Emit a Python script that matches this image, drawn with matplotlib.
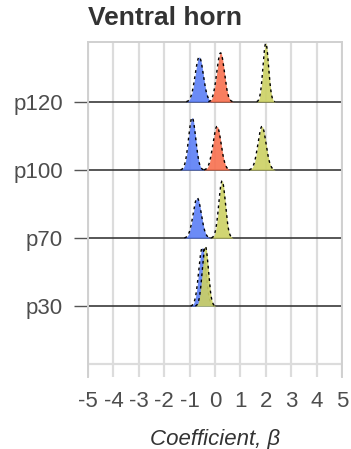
import numpy as np
import matplotlib
matplotlib.use("Agg")
import matplotlib.pyplot as plt

plt.rcParams['font.family'] = ['Liberation Sans', 'DejaVu Sans']
plt.rcParams['axes.unicode_minus'] = False

categories = ["p30", "p70", "p100", "p120"]
series_names = ["blue", "red", "yellow"]
series_colors = ["#5b7ef6", "#f8704f", "#ccd163"]
# posterior peak location (beta), spread, and ridge height (in row units); None = absent
means = {
    "p30":  [-0.50, None, -0.38],
    "p70":  [-0.70, None, 0.28],
    "p100": [-0.90, 0.08, 1.85],
    "p120": [-0.62, 0.22, 2.00],
}
sds = {
    "p30":  [0.14, None, 0.12],
    "p70":  [0.16, None, 0.13],
    "p100": [0.14, 0.16, 0.16],
    "p120": [0.16, 0.15, 0.11],
}
heights = {
    "p30":  [0.86, None, 0.88],
    "p70":  [0.59, None, 0.84],
    "p100": [0.77, 0.64, 0.64],
    "p120": [0.66, 0.72, 0.86],
}
xticks = [-5, -4, -3, -2, -1, 0, 1, 2, 3, 4, 5]

fig = plt.figure(figsize=(3.51, 4.49), dpi=100)
ax = fig.add_axes([88/351, 1-377/449, (342-88)/351, (377-42)/449])
ax.set_xlim(-5, 5)
ax.set_ylim(-1.04, 3.88)

for xv in xticks:
    ax.axvline(xv, color="#dcdcdc", lw=1.6, zorder=0)
ax.axhline(-0.85, color="#dcdcdc", lw=1.6, zorder=0)

xs = np.linspace(-5, 5, 2000)
for i, cat in enumerate(categories):
    ax.axhline(i, color="#3a3a3a", lw=1.2, zorder=1)
    for j in range(3):
        m = means[cat][j]
        if m is None:
            continue
        s = sds[cat][j]
        h = heights[cat][j]
        y = i + h * np.exp(-0.5 * ((xs - m) / s) ** 2)
        mask = y > i + 0.004
        ax.fill_between(xs[mask], i, y[mask], color=series_colors[j], alpha=0.9, lw=0, zorder=2 + j)
        ax.plot(xs[mask], y[mask], color="black", lw=1.0, ls=(0, (2, 2.5)), zorder=2 + j)

for sp in ["left", "right", "top"]:
    ax.spines[sp].set_color("#d0d0d0")
    ax.spines[sp].set_linewidth(1.4)
ax.spines["bottom"].set_visible(False)

ax.set_yticks(range(len(categories)))
ax.set_yticklabels(categories)
ax.set_xticks(xticks)
ax.set_xticklabels([str(t) for t in xticks])
ax.tick_params(axis="y", length=10, color="#555555", width=1.0, labelsize=16, labelcolor="#4d4d4d", pad=8)
ax.tick_params(axis="x", length=0, labelsize=16, labelcolor="#4d4d4d", pad=10)

ax.set_xlabel("Coefficient, β", fontsize=16, style="italic", color="#333333", labelpad=12)
fig.text(88/351, 1-18/449, "Ventral horn", fontsize=19, fontweight="bold", color="#333333", va="center", ha="left")

fig.savefig("out.png", dpi=100)
